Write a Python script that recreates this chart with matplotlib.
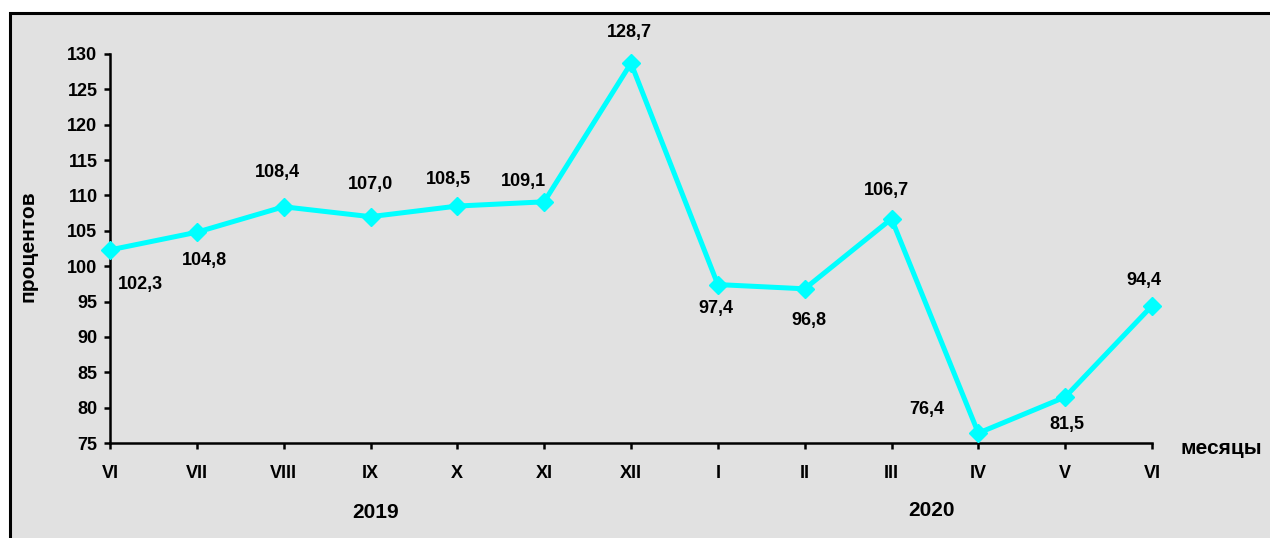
import matplotlib
matplotlib.use('Agg')
import matplotlib.pyplot as plt
from matplotlib.patches import Rectangle

months = ['VI', 'VII', 'VIII', 'IX', 'X', 'XI', 'XII', 'I', 'II', 'III', 'IV', 'V', 'VI']
values = [102.3, 104.8, 108.4, 107.0, 108.5, 109.1, 128.7, 97.4, 96.8, 106.7, 76.4, 81.5, 94.4]
years = ['2019', '2020']

# label offsets from each point, in pixels (dx, dy)
label_offsets = [(30, -35), (8, -28), (-6, 34), (0, 32), (-9, 27), (-21, 20), (-2, 31),
                 (-2, -24), (4, -32), (-5, 28), (-52, 24), (2, -27), (-8, 25)]

plt.rcParams['font.family'] = ['Liberation Sans', 'DejaVu Sans']
plt.rcParams['font.weight'] = 'bold'

W, H = 1270, 538
fig = plt.figure(figsize=(W / 100, H / 100), dpi=100)
fig.patch.set_facecolor('white')

bg = '#e1e1e1'
frame = Rectangle((10 / W, -0.1), 1.2, 1 - 13.5 / H + 0.1, transform=fig.transFigure,
                  facecolor=bg, edgecolor='black', linewidth=2.2, zorder=-10)
fig.patches.append(frame)

ax = fig.add_axes([110 / W, (H - 443) / H, (1152 - 110) / W, (443 - 54) / H])
ax.set_zorder(1)
ax.patch.set_alpha(0)

x = list(range(len(months)))
ax.plot(x, values, color='#00ffff', linewidth=3.6, marker='D', markersize=9,
        clip_on=False, zorder=5)

for xi, v, (dx, dy) in zip(x, values, label_offsets):
    ax.annotate(f'{v:.1f}'.replace('.', ','), (xi, v), xytext=(dx, dy),
                textcoords='offset pixels', ha='center', va='center',
                fontsize=13, fontweight='bold', color='black')

ax.set_xlim(0, 12)
ax.set_ylim(75, 130)
ax.set_yticks(range(75, 131, 5))
ax.set_xticks(x)
ax.set_xticklabels(months)

for s in ['top', 'right']:
    ax.spines[s].set_visible(False)
for s in ['left', 'bottom']:
    ax.spines[s].set_linewidth(1.8)
    ax.spines[s].set_color('black')

ax.tick_params(axis='y', direction='out', length=4, width=1.8, pad=5, labelsize=13)
ax.tick_params(axis='x', direction='out', length=4, width=1.8, pad=12, labelsize=13)
for lab in ax.get_xticklabels() + ax.get_yticklabels():
    lab.set_fontweight('bold')

fig.text(376 / W, 1 - 512 / H, years[0], ha='center', va='center', fontsize=15, fontweight='bold')
fig.text(931 / W, 1 - 511 / H, years[1], ha='center', va='center', fontsize=15, fontweight='bold')
fig.text(1180 / W, 1 - 449 / H, 'месяцы', ha='left', va='center', fontsize=15, fontweight='bold')
fig.text(28 / W, 1 - 246 / H, 'процентов', ha='center', va='center', rotation=90,
         fontsize=15, fontweight='bold')

fig.savefig('out.png', dpi=100, facecolor=fig.get_facecolor())
plt.close()
